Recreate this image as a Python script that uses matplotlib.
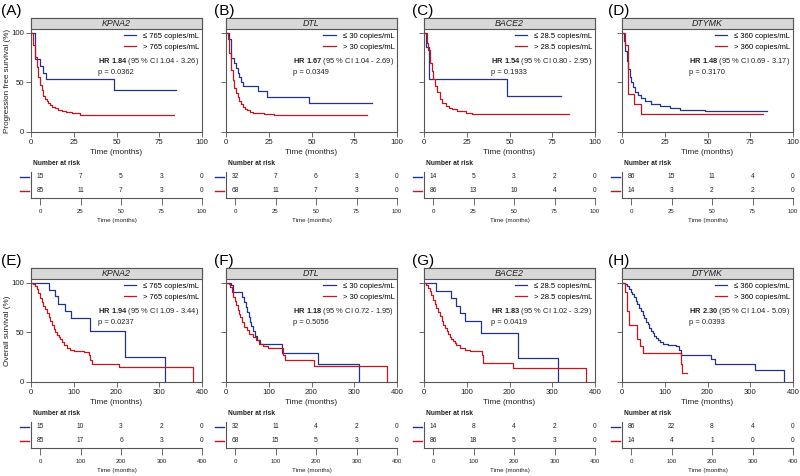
import numpy as np
import matplotlib
matplotlib.use('Agg')
import matplotlib.pyplot as plt
from matplotlib.patches import Rectangle
import matplotlib.transforms as mtransforms

plt.rcParams['font.family'] = ['Liberation Sans', 'DejaVu Sans']
plt.rcParams['mathtext.fontset'] = 'custom'
plt.rcParams['mathtext.rm'] = 'Liberation Sans'
plt.rcParams['mathtext.bf'] = 'Liberation Sans:bold'

# ---- survival curves (time, survival %) ----
# (A) PFS KPNA2
a_lo_t = [0, 2.5, 5.5, 7.0, 8.5, 48.5, 85]
a_lo_s = [100, 73.3, 66.7, 60.0, 53.3, 42.7, 42.7]
a_hi_t = [0, 1.0, 1.4, 2.3, 3.3, 4.3, 5.3, 6.2, 7.2, 8.2, 9.2, 10.2, 11.1, 12.5, 14, 16, 17.9, 20.5, 23.8, 28.7, 83.6]
a_hi_s = [100, 96, 88, 76, 66, 55, 47.6, 42, 36.5, 33, 31, 29, 27, 25.5, 23.8, 22, 21, 20.3, 19.2, 16.7, 16.7]
# (B) PFS DTL
b_lo_t = [0, 2, 2.9, 4.9, 5.9, 6.8, 7.8, 8.8, 9.8, 18.6, 23.8, 48.8, 85.4]
b_lo_s = [100, 94, 75, 70, 65, 60, 55, 50.7, 46, 41, 35, 29.3, 29.3]
b_hi_t = [0, 1, 2, 2.9, 3.9, 4.9, 5.9, 6.8, 7.8, 8.8, 9.8, 11, 12.1, 14, 16, 22, 28, 82.4]
b_hi_s = [100, 94, 80, 63, 52, 44, 39, 35, 31, 28, 25.5, 23.5, 21.7, 20.5, 19, 18.3, 16.7, 16.7]
# (C) PFS BACE2
c_lo_t = [0, 1.4, 2.9, 48.5, 80.2]
c_lo_s = [100, 85.7, 53.6, 36.7, 36.7]
c_hi_t = [0, 1.9, 2.5, 3.5, 4.5, 5.4, 6.4, 7.8, 9.1, 10.7, 12.6, 14.5, 16.5, 19.4, 24.3, 28.2, 84.9]
c_hi_s = [100, 90, 83, 70, 61.7, 53, 46.7, 40, 33, 29, 26, 24.5, 23.3, 20.7, 19, 17.7, 17.7]
# (D) PFS DTYMK
d_lo_t = [0, 1.2, 1.9, 2.7, 3.5, 4.5, 5.5, 6.4, 7.8, 9.4, 11.3, 13.3, 17.2, 22, 28, 34, 48.5, 84.8]
d_lo_s = [100, 91.7, 81.7, 71.7, 63.3, 55.7, 50, 45, 40.7, 37.3, 34.3, 31.7, 28.5, 26, 24.2, 22.5, 21, 21]
d_hi_t = [0, 1.9, 3.3, 7.0, 10.9, 82.5]
d_hi_s = [100, 88, 38, 28.5, 18.5, 18.5]
# (E) OS KPNA2
e_lo_t = [0, 41, 57, 62, 80, 94, 139, 220, 313]
e_lo_s = [100, 92.9, 87, 79, 71.5, 64.3, 51.4, 25.7, 0]
e_hi_t = [0, 5, 9, 13, 17, 21, 25, 29, 33, 37, 41, 45, 49, 53, 57, 61, 65, 69, 73, 77, 84, 92, 100, 124, 135, 139, 143, 206, 378]
e_hi_s = [100, 98.8, 96.5, 93.6, 89.5, 85, 80.5, 76.7, 73.5, 70, 66, 62, 57.5, 53, 50, 47, 45, 43, 40, 37, 34.5, 31.8, 31, 30, 27.7, 22.6, 18.6, 14.9, 0]
# (F) OS DTL
f_lo_t = [0, 11, 17, 37, 43, 47, 49, 53, 55, 58.5, 62.5, 68.5, 72.5, 80, 132, 216, 312]
f_lo_s = [100, 97.6, 91, 86, 81, 76, 71, 66, 61, 56, 51, 46, 42, 38, 29, 18, 0]
f_hi_t = [0, 6, 10, 14, 17, 20, 23.4, 27.3, 30, 32.7, 37.4, 42.9, 48.4, 54.6, 62.4, 70, 78, 85.8, 97.5, 134, 139, 207, 377]
f_hi_s = [100, 98.5, 95.5, 91, 86, 82, 77.5, 72.4, 69, 66, 60.6, 55.6, 52.2, 48.8, 45.4, 42.7, 38.7, 36, 34.6, 27, 22.5, 15.8, 0]
# (G) OS BACE2
g_lo_t = [0, 29, 64, 74, 84, 96, 132.5, 219, 313]
g_lo_s = [100, 92.3, 84.8, 77, 69.7, 62, 49.5, 24.2, 0]
g_hi_t = [0, 5.5, 9, 13, 17, 21, 25, 29, 33, 37, 41, 45, 49, 53, 57, 60, 64, 68, 72, 76, 84, 96, 107, 135, 139, 209, 380]
g_hi_s = [100, 98, 95, 91.6, 87.5, 83, 79, 74.7, 70.5, 66.3, 62, 58, 54.5, 51, 48, 45, 43.5, 41.8, 39.5, 37.7, 34.3, 32, 31, 27.6, 19.2, 14, 0]
# (H) OS DTYMK
h_lo_t = [0, 8, 12.5, 16, 20, 24, 28, 32, 36, 40, 44, 48, 52, 56, 60, 64, 68, 72, 76, 80, 84, 88, 96, 108, 127, 133, 137.5, 208, 218, 312, 379]
h_lo_s = [100, 98.8, 96.6, 93.5, 91, 88.5, 85.5, 82, 79, 75, 72, 68, 65, 61, 58.5, 54.5, 51.5, 49, 46.5, 44, 42, 40.4, 38, 37, 36, 32, 27, 23.6, 18.2, 12.5, 0]
h_hi_t = [0, 7.8, 12.5, 15.6, 36, 41.4, 49, 137.5, 140.6, 151]
h_hi_s = [100, 91, 72, 57, 43.8, 36, 29, 18.5, 9.4, 9.4]

# ---- number at risk ----
risk_a = ([15, 7, 5, 3, 0], [85, 11, 7, 3, 0])
risk_b = ([32, 7, 6, 3, 0], [68, 11, 7, 3, 0])
risk_c = ([14, 5, 3, 2, 0], [86, 13, 10, 4, 0])
risk_d = ([86, 15, 11, 4, 0], [14, 3, 2, 2, 0])
risk_e = ([15, 10, 3, 2, 0], [85, 17, 6, 3, 0])
risk_f = ([32, 11, 4, 2, 0], [68, 15, 5, 3, 0])
risk_g = ([14, 8, 4, 2, 0], [86, 18, 5, 3, 0])
risk_h = ([86, 22, 8, 4, 0], [14, 4, 1, 0, 0])

genes = ['KPNA2', 'DTL', 'BACE2', 'DTYMK']
cutoffs = ['765', '30', '28.5', '360']
hr_text = [('1.84', '1.04 - 3.26', '0.0362'), ('1.67', '1.04 - 2.69', '0.0349'),
           ('1.54', '0.80 - 2.95', '0.1933'), ('1.48', '0.69 - 3.17', '0.3170'),
           ('1.94', '1.09 - 3.44', '0.0237'), ('1.18', '0.72 - 1.95', '0.5056'),
           ('1.83', '1.02 - 3.29', '0.0419'), ('2.30', '1.04 - 5.09', '0.0393')]
letters = ['A', 'B', 'C', 'D', 'E', 'F', 'G', 'H']
pfs_ticks = [0, 25, 50, 75, 100]
os_ticks = [0, 100, 200, 300, 400]

curves = [(a_lo_t, a_lo_s, a_hi_t, a_hi_s), (b_lo_t, b_lo_s, b_hi_t, b_hi_s),
          (c_lo_t, c_lo_s, c_hi_t, c_hi_s), (d_lo_t, d_lo_s, d_hi_t, d_hi_s),
          (e_lo_t, e_lo_s, e_hi_t, e_hi_s), (f_lo_t, f_lo_s, f_hi_t, f_hi_s),
          (g_lo_t, g_lo_s, g_hi_t, g_hi_s), (h_lo_t, h_lo_s, h_hi_t, h_hi_s)]
risks = [risk_a, risk_b, risk_c, risk_d, risk_e, risk_f, risk_g, risk_h]

BLUE = '#24338a'
RED = '#c4161c'
FRAME = '#555555'
W, H = 800, 476


def box(x0, ytop, w, h):
    return [x0 / W, 1 - (ytop + h) / H, w / W, h / H]


fig = plt.figure(figsize=(8, 4.76), dpi=100)
lefts = [31, 226, 424, 622]
label_x = [1, 214, 412, 608]
pw = 171

for i in range(8):
    row, col = divmod(i, 4)
    off = 250 * row
    L = lefts[col]
    ticks = pfs_ticks if row == 0 else os_ticks
    xmax = ticks[-1]
    lo_t, lo_s, hi_t, hi_s = curves[i]

    ax = fig.add_axes(box(L, 18 + off, pw, 114))
    ax.step(lo_t, lo_s, where='post', color=BLUE, lw=0.9,
            label='\u2264 %s copies/mL' % cutoffs[col])
    ax.step(hi_t, hi_s, where='post', color=RED, lw=0.9,
            label='> %s copies/mL' % cutoffs[col])
    ax.set_xlim(0, xmax)
    ax.set_ylim(0, 115)
    ax.set_xticks(ticks)
    ax.set_yticks([0, 50, 100])
    if col != 0:
        ax.set_yticklabels([])
    for sp in ax.spines.values():
        sp.set_color(FRAME)
        sp.set_linewidth(0.8)
    ax.tick_params(direction='out', length=3.5, width=0.6, color=FRAME,
                   labelsize=5.6, pad=1.5, labelcolor='#222222')
    ax.set_xlabel('Time (months)', fontsize=5.9, labelpad=2, color='#222222')
    if col == 0:
        ax.set_ylabel('Progression free survival (%)' if row == 0 else 'Overall survival (%)',
                      fontsize=5.9, color='#222222')
        ax.yaxis.set_label_coords(-0.118, 0.45)

    # grey strip with the gene name
    ax.add_patch(Rectangle((0, 104 / 115), 1, 11 / 115, transform=ax.transAxes,
                           facecolor='#d8d8d8', edgecolor=FRAME, lw=0.8,
                           clip_on=False, zorder=3))
    ax.text(0.5, 109.5 / 115, genes[col], style='italic', ha='center', va='center',
            fontsize=6.4, transform=ax.transAxes, zorder=4, color='#222222')

    ax.legend(loc='upper right', bbox_to_anchor=(0.985, 0.875), frameon=False,
              fontsize=5.5, handlelength=1.6, handletextpad=0.9, labelspacing=0.55,
              borderaxespad=0, borderpad=0)
    hr, ci, p = hr_text[i]
    ax.text(0.982, 0.668, '$\\mathbf{HR\\ %s}$ (95 %% CI %s)\np = %s' % (hr, ci, p),
            transform=ax.transAxes, ha='right', va='top', multialignment='left',
            fontsize=5.4, linespacing=1.35, color='#222222')

    fig.text(label_x[col] / W, 1 - (11 + off) / H, '(%s)' % letters[i],
             fontsize=11, va='center', ha='left')

    # number at risk table
    tax = fig.add_axes(box(L, 172 + off, pw, 26))
    tax.set_xlim(-9 / 162 * xmax, xmax)
    tax.set_ylim(-0.5, 1.357)
    tax.spines['top'].set_visible(False)
    tax.spines['right'].set_visible(False)
    for sp in ('left', 'bottom'):
        tax.spines[sp].set_color(FRAME)
        tax.spines[sp].set_linewidth(0.8)
    tax.set_yticks([])
    tax.set_xticks(ticks)
    tax.tick_params(axis='x', direction='out', length=5, width=0.6, color=FRAME,
                    labelsize=4.4, pad=3, labelcolor='#222222')
    tax.set_xlabel('Time (months)', fontsize=4.5, labelpad=3, color='#222222')
    lo_r, hi_r = risks[i]
    for k, tk in enumerate(ticks):
        tax.text(tk, 1, str(lo_r[k]), ha='center', va='center', fontsize=4.8, color='#222222')
        tax.text(tk, 0, str(hi_r[k]), ha='center', va='center', fontsize=4.8, color='#222222')
    trans = mtransforms.blended_transform_factory(tax.transAxes, tax.transData)
    tax.plot([-0.066, -0.012], [1, 1], transform=trans, clip_on=False, color=BLUE, lw=1.0)
    tax.plot([-0.066, -0.012], [0, 0], transform=trans, clip_on=False, color=RED, lw=1.0)
    tax.text(0.012, 1.31, 'Number at risk', transform=tax.transAxes, fontweight='bold',
             fontsize=4.8, va='center', ha='left', color='#222222')

fig.savefig('out.png', dpi=100)
